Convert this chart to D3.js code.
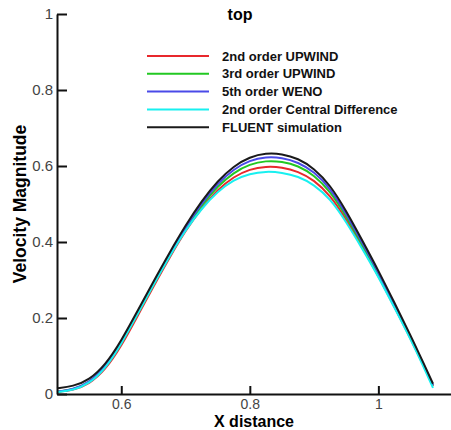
<!DOCTYPE html>
<html>
<head>
<meta charset="utf-8">
<script src="https://cdn.jsdelivr.net/npm/d3@7"></script>
<style>
  body { margin: 0; background: #fff; }
  text { font-family: "Liberation Sans", Arial, sans-serif; }
</style>
</head>
<body>
<div class="myViz"></div>
<script>
// data
var xDist = [0.5, 0.525, 0.55, 0.575, 0.6, 0.625, 0.65, 0.675, 0.7, 0.725, 0.75, 0.775, 0.8,
             0.825, 0.85, 0.875, 0.9, 0.925, 0.95, 0.975, 1.0, 1.025, 1.05, 1.07, 1.085];

var upwind2 = [0.006,0.010,0.026,0.063,0.126,0.204,0.283,0.359,0.430,0.490,0.538,0.572,0.592,
               0.599,0.597,0.586,0.563,0.523,0.460,0.386,0.311,0.229,0.147,0.076,0.021];
var upwind3 = [0.006,0.011,0.029,0.068,0.132,0.210,0.288,0.364,0.435,0.497,0.547,0.583,0.605,
               0.614,0.612,0.601,0.576,0.534,0.468,0.392,0.315,0.232,0.149,0.077,0.022];
var weno5   = [0.006,0.012,0.030,0.070,0.134,0.213,0.291,0.367,0.439,0.502,0.554,0.592,0.615,
               0.624,0.622,0.610,0.585,0.542,0.475,0.398,0.320,0.235,0.151,0.078,0.023];
var central2 = [0.005,0.010,0.027,0.066,0.131,0.209,0.287,0.362,0.432,0.488,0.533,0.564,0.580,
                0.586,0.583,0.573,0.551,0.514,0.453,0.382,0.309,0.227,0.145,0.073,0.016];
var fluent  = [0.015,0.020,0.037,0.076,0.140,0.218,0.296,0.372,0.444,0.508,0.561,0.600,0.624,
               0.634,0.632,0.620,0.594,0.550,0.482,0.404,0.325,0.240,0.155,0.082,0.027];

var seriesNames = ["2nd order UPWIND", "3rd order UPWIND", "5th order WENO",
                   "2nd order Central Difference", "FLUENT simulation"];
var seriesValues = [upwind2, upwind3, weno5, central2, fluent];
var seriesColors = ["#e8282c", "#22c822", "#4a4ae8", "#18f0f0", "#1a1a1a"];

var xTicks = [0.6, 0.8, 1.0];
var xTickLabels = ["0.6", "0.8", "1"];
var yTicks = [0, 0.2, 0.4, 0.6, 0.8, 1];
var yTickLabels = ["0", "0.2", "0.4", "0.6", "0.8", "1"];

// set the dimensions and margins of the graph
var margin = {top: 14, right: 0, bottom: 36, left: 57},
    width = 451 - margin.left - margin.right,
    height = 430 - margin.top - margin.bottom;

var svg = d3.select(".myViz")
  .append("svg")
  .attr("width", width + margin.left + margin.right)
  .attr("height", height + margin.top + margin.bottom);

var chartGroup = svg.append("g")
  .attr("transform", `translate(${margin.left}, ${margin.top})`);

var x = d3.scaleLinear().domain([0.5, 1.113]).range([0, width]);
var y = d3.scaleLinear().domain([0, 1]).range([height, 0]);

// curves
var line = d3.line()
  .x(d => x(d[0]))
  .y(d => y(d[1]))
  .curve(d3.curveBasis);

seriesValues.forEach(function(vals, i) {
  chartGroup.append("path")
    .datum(xDist.map((xv, j) => [xv, vals[j]]))
    .attr("d", line)
    .style("fill", "none")
    .style("stroke", seriesColors[i])
    .style("stroke-width", 2);
});

// X axis
var xAxis = chartGroup.append("g")
  .attr("transform", "translate(0," + height + ")")
  .call(d3.axisBottom(x)
    .tickValues(xTicks)
    .tickFormat((d, i) => xTickLabels[i])
    .tickSizeInner(-8)
    .tickSizeOuter(0)
    .tickPadding(5));

// Y axis
var yAxis = chartGroup.append("g")
  .call(d3.axisLeft(y)
    .tickValues(yTicks)
    .tickFormat((d, i) => yTickLabels[i])
    .tickSizeInner(-10)
    .tickSizeOuter(0)
    .tickPadding(4));

[xAxis, yAxis].forEach(function(ax) {
  ax.select(".domain").style("stroke", "#111").style("stroke-width", 2);
  ax.selectAll(".tick line").style("stroke", "#111").style("stroke-width", 2);
  ax.selectAll(".tick text")
    .style("font-family", "'Liberation Sans', Arial, sans-serif")
    .style("fill", "#444");
});
xAxis.selectAll(".tick text").style("font-size", "14px");
yAxis.selectAll(".tick text").style("font-size", "15px");

// axis titles
svg.append("text")
  .attr("x", 254)
  .attr("y", 427)
  .attr("text-anchor", "middle")
  .style("font-size", "16px")
  .style("font-weight", "bold")
  .text("X distance");

svg.append("text")
  .attr("transform", "translate(26," + 204 + ") rotate(-90)")
  .attr("text-anchor", "middle")
  .style("font-size", "17.5px")
  .style("font-weight", "bold")
  .text("Velocity Magnitude");

// title
svg.append("text")
  .attr("x", 240)
  .attr("y", 20)
  .attr("text-anchor", "middle")
  .style("font-size", "16px")
  .style("font-weight", "bold")
  .text("top");

// legend
var legend = svg.append("g").attr("transform", "translate(147, 56)");
seriesNames.forEach(function(name, i) {
  var row = legend.append("g").attr("transform", `translate(0, ${i * 17.8})`);
  row.append("line")
    .attr("x1", 0).attr("x2", 62)
    .attr("y1", 0).attr("y2", 0)
    .style("stroke", seriesColors[i])
    .style("stroke-width", 2);
  row.append("text")
    .attr("x", 75)
    .attr("y", 0)
    .attr("dy", "0.36em")
    .style("font-size", "13px")
    .style("font-weight", "bold")
    .style("fill", "#111")
    .text(name);
});
</script>
</body>
</html>
